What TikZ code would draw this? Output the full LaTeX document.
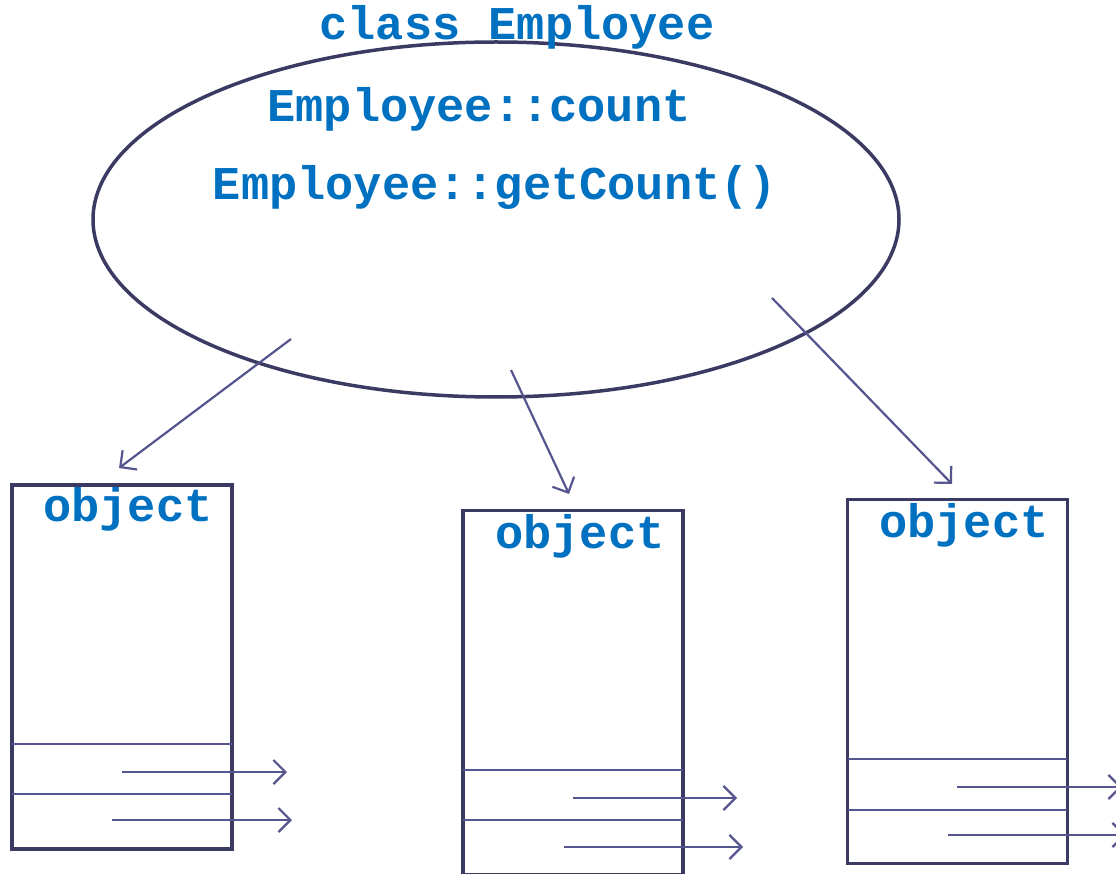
\documentclass[tikz,border=0pt]{standalone}
\usepackage{fontspec}
\setmonofont{Liberation Mono}
\usetikzlibrary{shapes.geometric,arrows.meta}

\definecolor{codeblue}{HTML}{0070C0}
\definecolor{frame}{HTML}{3B3A63}
\definecolor{link}{HTML}{55558F}

\tikzset{
    code/.style={font=\ttfamily\bfseries\fontsize{47}{50}\selectfont, text=codeblue, inner sep=0pt},
    classbox/.style={ellipse, draw=frame, line width=3.5pt, minimum width=806pt, minimum height=355pt},
    objbox/.style={rectangle, draw=frame, line width=3.5pt, minimum width=220pt, minimum height=364pt},
    slot/.style={draw=link, line width=1.8pt},
    ref/.style={draw=link, line width=2.2pt, -{Straight Barb[length=12pt,width=24pt,line width=2.2pt]}}
}

\begin{document}
\begin{tikzpicture}[x=1pt,y=-1pt]
    \useasboundingbox (0,0) rectangle (1116,874);
    % the class with its static members
    \node[classbox] (cls) at (496,219.5) {};
    \node[code] (title) at (517,27) {class Employee};
    \node[code] (count) at (479,109) {Employee::count};
    \node[code] (getc) at (495,187) {Employee::getCount()};

    % three objects
    \node[objbox] (objA) at (122,667) {};
    \node[objbox] (objB) at (573,692.5) {};
    \node[objbox] (objC) at (957.5,681.5) {};
    \node[code] (labA) at (128,509) {object};
    \node[code] (labB) at (580,536) {object};
    \node[code] (labC) at (964,525) {object};

    % slots and their outgoing pointers
    \draw[slot] (12,744) -- (232,744) (12,794) -- (232,794);
    \draw[slot] (463,770) -- (683,770) (463,820) -- (683,820);
    \draw[slot] (848,759) -- (1067,759) (848,810) -- (1067,810);
    \coordinate (a1) at (122,772); \coordinate (a1e) at (287,772);
    \coordinate (a2) at (112,820); \coordinate (a2e) at (292,820);
    \coordinate (b1) at (573,798); \coordinate (b1e) at (737,798);
    \coordinate (b2) at (564,847); \coordinate (b2e) at (743,847);
    \coordinate (c1) at (957,787); \coordinate (c1e) at (1122,787);
    \coordinate (c2) at (948,835); \coordinate (c2e) at (1126,835);
    \draw[ref] (a1) -- (a1e);
    \draw[ref] (a2) -- (a2e);
    \draw[ref] (b1) -- (b1e);
    \draw[ref] (b2) -- (b2e);
    \draw[ref] (c1) -- (c1e);
    \draw[ref] (c2) -- (c2e);

    % class to objects
    \coordinate (s1) at (291,339); \coordinate (t1) at (119,468);
    \coordinate (s2) at (511,370); \coordinate (t2) at (569,494);
    \coordinate (s3) at (772,298); \coordinate (t3) at (952,484);
    \draw[ref] (s1) -- (t1);
    \draw[ref] (s2) -- (t2);
    \draw[ref] (s3) -- (t3);
\end{tikzpicture}
\end{document}
